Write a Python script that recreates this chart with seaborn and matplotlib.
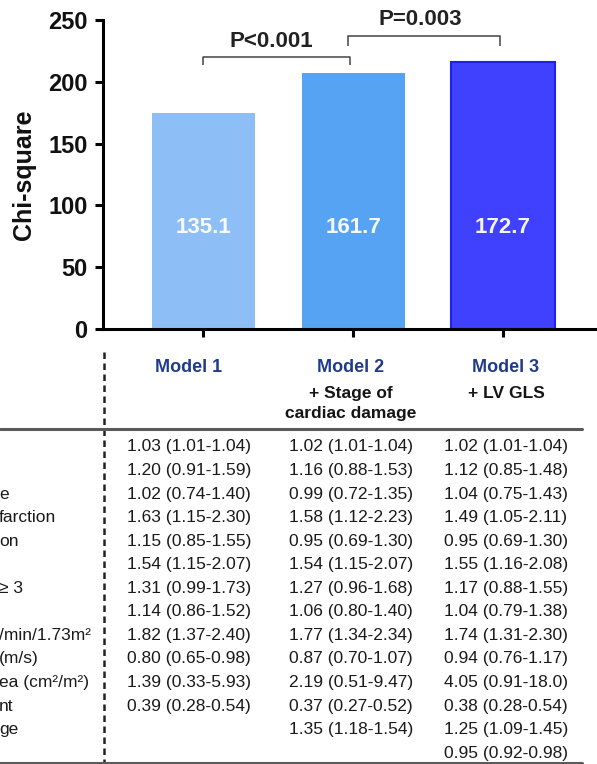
import matplotlib
matplotlib.use("Agg")
import matplotlib.pyplot as plt
import numpy as np
import pandas as pd
import seaborn as sns

# ---------------- data ----------------
models = ["Model 1", "Model 2", "Model 3"]
chi_heights = [175, 207, 216]
chi_labels = ["135.1", "161.7", "172.7"]
bar_colors = ["#8EBEF6", "#55A3F2", "#4040FF"]
p_texts = ["P<0.001", "P=0.003"]
subtitles = [[], ["+ Stage of", "cardiac damage"], ["+ LV GLS"]]

row_fragments = ["", "", "e", "farction", "on", "", "\u2265 3", "",
                 "/min/1.73m\u00b2", "(m/s)", "ea (cm\u00b2/m\u00b2)", "nt", "ge", ""]
model1_vals = ["1.03 (1.01-1.04)", "1.20 (0.91-1.59)", "1.02 (0.74-1.40)",
               "1.63 (1.15-2.30)", "1.15 (0.85-1.55)", "1.54 (1.15-2.07)",
               "1.31 (0.99-1.73)", "1.14 (0.86-1.52)", "1.82 (1.37-2.40)",
               "0.80 (0.65-0.98)", "1.39 (0.33-5.93)", "0.39 (0.28-0.54)",
               "", ""]
model2_vals = ["1.02 (1.01-1.04)", "1.16 (0.88-1.53)", "0.99 (0.72-1.35)",
               "1.58 (1.12-2.23)", "0.95 (0.69-1.30)", "1.54 (1.15-2.07)",
               "1.27 (0.96-1.68)", "1.06 (0.80-1.40)", "1.77 (1.34-2.34)",
               "0.87 (0.70-1.07)", "2.19 (0.51-9.47)", "0.37 (0.27-0.52)",
               "1.35 (1.18-1.54)", ""]
model3_vals = ["1.02 (1.01-1.04)", "1.12 (0.85-1.48)", "1.04 (0.75-1.43)",
               "1.49 (1.05-2.11)", "0.95 (0.69-1.30)", "1.55 (1.16-2.08)",
               "1.17 (0.88-1.55)", "1.04 (0.79-1.38)", "1.74 (1.31-2.30)",
               "0.94 (0.76-1.17)", "4.05 (0.91-18.0)", "0.38 (0.28-0.54)",
               "1.25 (1.09-1.45)", "0.95 (0.92-0.98)"]

# ---------------- style ----------------
sns.set_theme(style="ticks")
plt.rcParams['font.family'] = ['Liberation Sans', 'DejaVu Sans']

W, H = 597, 764
fig = plt.figure(figsize=(W / 100, H / 100), dpi=100)
fig.patch.set_facecolor("white")

# main bar axes (pixel layout)
ax = fig.add_axes([103 / W, (H - 329) / H, (W - 103) / W, (329 - 20) / H])
df = pd.DataFrame({"model": models, "chi": chi_heights})
sns.barplot(data=df, x="model", y="chi", hue="model", palette=bar_colors,
            width=0.69, saturation=1, legend=False, ax=ax)
for i, patch in enumerate(ax.patches):
    patch.set_linewidth(0)
    if i == 2:
        patch.set_edgecolor("#2020F0")
        patch.set_linewidth(1.5)

ax.set_xlim(-0.671, 2.628)
ax.set_ylim(0, 250)
ax.set_yticks(np.arange(0, 251, 50))
ax.set_xticks(range(len(models)))
ax.set_xticklabels([])
ax.set_xlabel("")
ax.set_ylabel("Chi-square", fontsize=18, fontweight="bold", color="#111")
ax.yaxis.set_label_coords(-0.136, 0.5)
sns.despine(ax=ax)
for s in ["left", "bottom"]:
    ax.spines[s].set_linewidth(2.2)
    ax.spines[s].set_color("black")
ax.tick_params(axis="both", direction="out", length=6, width=2.2, color="black")
ax.tick_params(axis="y", labelsize=17, pad=5)
for lbl in ax.get_yticklabels():
    lbl.set_fontweight("bold")
    lbl.set_color("#111")

for i, lab in enumerate(chi_labels):
    ax.text(i, 77.7, lab, ha="center", va="baseline", color="white",
            fontsize=16, fontweight="bold", alpha=0.95)

# significance brackets
def bracket(x0, x1, yh, yend, txt, tx, ty):
    ax.plot([x0, x0, x1, x1], [yend, yh, yh, yend], color="#444", lw=1.1,
            clip_on=False, solid_capstyle="butt")
    ax.text(tx, ty, txt, ha="center", va="baseline", fontsize=16,
            fontweight="bold", color="#222", clip_on=False)

bracket(0.0, 0.98, 220, 213.5, p_texts[0], 0.45, 228.2)
bracket(0.965, 1.98, 237, 229, p_texts[1], 1.45, 246)

# ---------------- table overlay ----------------
tx = fig.add_axes([0, 0, 1, 1])
tx.set_xlim(0, W)
tx.set_ylim(H, 0)
tx.axis("off")

tx.plot([103.5, 103.5], [352, 764], color="#222", lw=1.8,
        linestyle=(0, (2.6, 1.8)))
tx.plot([0, 582], [428.5, 428.5], color="#5a5a5a", lw=2.2)
tx.plot([0, 582], [762.5, 762.5], color="#5a5a5a", lw=2.2)

col_x = [189, 351, 506]
for cx, m, subs in zip(col_x, models, subtitles):
    tx.text(cx, 372, m, ha="center", va="baseline", fontsize=13,
            fontweight="bold", color="#1F3C8C")
    for j, s in enumerate(subs):
        tx.text(cx, 398 + 20 * j, s, ha="center", va="baseline",
                fontsize=12.5, fontweight="bold", color="#151515")

row_base = 451.5
row_step = 23.55
for r, (frag, v1, v2, v3) in enumerate(zip(row_fragments, model1_vals,
                                          model2_vals, model3_vals)):
    y = row_base + r * row_step
    if frag:
        tx.text(-1, y, frag, ha="left", va="baseline", fontsize=12.5,
                color="#1a1a1a")
    for cx, v in zip(col_x, (v1, v2, v3)):
        if v:
            tx.text(cx, y, v, ha="center", va="baseline", fontsize=12.5,
                    color="#1a1a1a")

fig.savefig("out.png", dpi=100, facecolor="white")
